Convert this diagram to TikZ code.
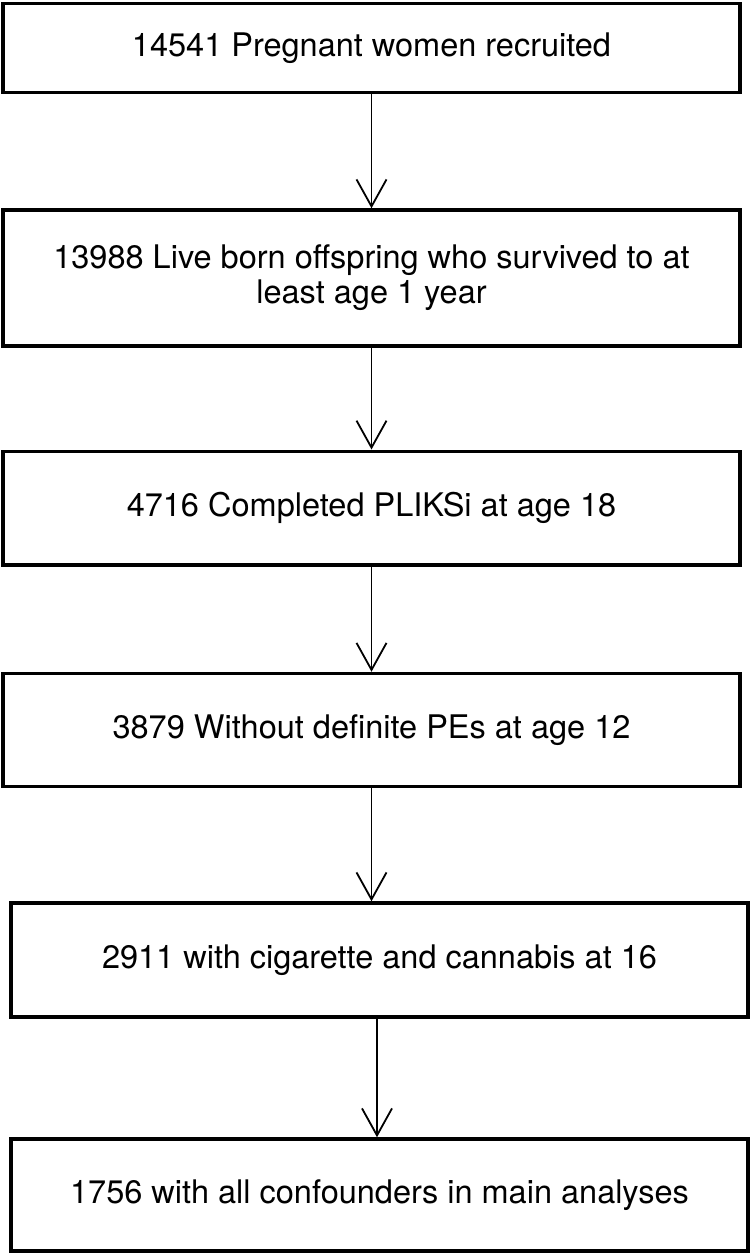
\documentclass[tikz,border=0pt]{standalone}
\usepackage{fontspec}
\setmainfont{TeX Gyre Heros}
\usetikzlibrary{arrows.meta,positioning}

\begin{document}
\begin{tikzpicture}[x=1pt, y=-1pt]
	\tikzstyle{Stage}	= [rectangle, draw, line width=3.5pt, minimum width=737pt, inner sep=0pt, align=center, font=\fontsize{32.5}{35}\selectfont]
	\tikzstyle{Flow}	= [line width=1.8pt, -{Straight Barb[length=27pt, width=30pt]}]

	\useasboundingbox (0, 0) rectangle (750, 1255);

	\node (s1) at (371.5, 48) [Stage, minimum height=89pt] {14541 Pregnant women recruited};
	\node (s2) at (371.5, 278) [Stage, minimum height=136pt] {13988 Live born offspring who survived to at\\least age 1 year};
	\node (s3) at (371.5, 508) [Stage, minimum height=113.5pt] {4716 Completed PLIKSi at age 18};
	\node (s4) at (371.5, 730) [Stage, minimum height=113pt] {3879 Without definite PEs at age 12};
	\node (s5) at (379.5, 960) [Stage, minimum height=114pt] {2911 with cigarette and cannabis at 16};
	\node (s6) at (379.5, 1195) [Stage, minimum height=112pt] {1756 with all confounders in main analyses};

	\draw [Flow] (s1) to (s2);
	\draw [Flow] (s2) to (s3);
	\draw [Flow] (s3) to (s4);
	\draw [Flow] (s4.south) to (s4.south |- s5.north);
	\draw [Flow] ([xshift=-2.5pt]s5.south) to ([xshift=-2.5pt]s6.north);
\end{tikzpicture}
\end{document}
